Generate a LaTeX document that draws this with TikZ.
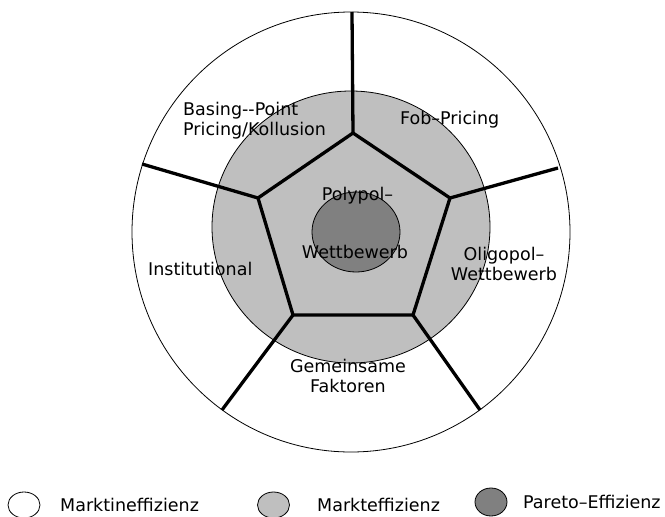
\documentclass[tikz,border=0pt]{standalone}
\usepackage{fontspec}
\setmainfont{DejaVu Sans}
\begin{document}
\begin{tikzpicture}[x=1pt,y=-1pt,
    lbl/.style={font=\fontsize{17.5}{20}\selectfont, inner sep=0pt},
    ring/.style={line width=0.8pt},
    spoke/.style={line width=3.3pt}]
    \useasboundingbox (0,0) rectangle (665,517);

    % Kreise
    \draw[ring] (351,232) circle [x radius=219, y radius=220];
    \draw[ring, fill=black!25] (351,227) circle [x radius=139, y radius=136];
    \draw[ring, fill=black!50] (356,232) circle [x radius=44, y radius=40];

    % Fuenfeck und Speichen
    \coordinate (pt) at (353,133);
    \coordinate (pur) at (450,198);
    \coordinate (plr) at (413,315);
    \coordinate (pll) at (293,315);
    \coordinate (pul) at (258,198);
    \coordinate (ot) at (352,12);
    \coordinate (our) at (558,168);
    \coordinate (olr) at (480,410);
    \coordinate (oll) at (222,410);
    \coordinate (oul) at (142,164);
    \draw[spoke, line join=round] (pt) -- (pur) -- (plr) -- (pll) -- (pul) -- cycle;
    \draw[spoke] (pt) -- (ot);
    \draw[spoke] (pur) -- (our);
    \draw[spoke] (plr) -- (olr);
    \draw[spoke] (pll) -- (oll);
    \draw[spoke] (pul) -- (oul);

    % Beschriftungen
    \node[lbl, anchor=west, align=left] (basing) at (183,120.5) {Basing-{}-Point\\Pricing/Kollusion};
    \node[lbl, anchor=base west] (fob) at (400,124) {Fob--Pricing};
    \node[lbl, anchor=base] (polypol) at (357.5,200) {Polypol--};
    \node[lbl, anchor=base] (wettb) at (355,258) {Wettbewerb};
    \node[lbl, anchor=base west] (instit) at (148,275) {Institutional};
    \node[lbl, align=center] (oligo) at (504,263.5) {Oligopol--\\Wettbewerb};
    \node[lbl, align=center] (gemein) at (348,375.5) {Gemeinsame\\Faktoren};

    % Legende
    \draw[ring] (24,505) circle [x radius=16, y radius=13];
    \node[lbl, anchor=base west] (lgineff) at (60,511) {Marktineffizienz};
    \draw[ring, fill=black!25] (273.5,505) circle [x radius=16, y radius=13];
    \node[lbl, anchor=base west] (lgeff) at (317,511) {Markteffizienz};
    \draw[ring, fill=black!50] (491,502) circle [x radius=16, y radius=14];
    \node[lbl, anchor=base west] (lgpareto) at (523,508) {Pareto--Effizienz};
\end{tikzpicture}
\end{document}
